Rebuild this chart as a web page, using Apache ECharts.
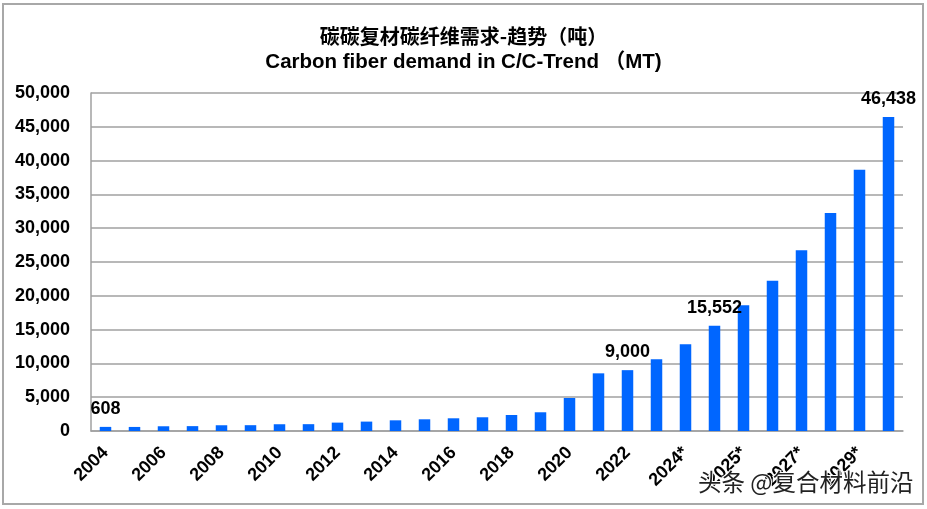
<!DOCTYPE html>
<html>
<head>
<meta charset="utf-8">
<script src="https://cdn.jsdelivr.net/npm/echarts@6/dist/echarts.min.js"></script>
<style>
html,body{margin:0;padding:0;background:#fff;}
#c{width:927px;height:509px;}
</style>
</head>
<body>
<div id="c"></div>
<script>
const titleCn = '碳碳复材碳纤维需求-趋势（吨）';
const titleEn = 'Carbon fiber demand in C/C-Trend （MT)';
const categories = ['2004','2005','2006','2007','2008','2009','2010','2011','2012','2013',
  '2014','2015','2016','2017','2018','2019','2020','2021','2022','2023',
  '2024*','2024*','2025*','2026*','2027*','2028*','2029*','2030*'];
const demand = [608,600,700,720,850,860,1000,1010,1240,1390,
  1580,1730,1880,2030,2370,2770,4880,8530,9000,10600,
  12820,15552,18590,22240,26730,32260,38660,46438];
const labeledIndex = [0,18,21,27];
const yTicks = {min:0,max:50000,interval:5000};
const watermark = '头条 @复合材料前沿';

const fmt = v => String(v).replace(/\B(?=(\d{3})+(?!\d))/g, ',');
const FONT = '"Liberation Sans", Arial, "Noto Sans CJK SC", sans-serif';

const seriesData = demand.map((v,i)=>({
  value:v,
  label:{show: labeledIndex.indexOf(i) >= 0}
}));

const chart = echarts.init(document.getElementById('c'));
chart.setOption({
  animation:false,
  backgroundColor:'#fff',
  title:[
    {text:titleCn,left:'center',top:21,textStyle:{fontFamily:'"Noto Sans CJK SC", sans-serif',fontSize:20,fontWeight:'bold',color:'#000'}},
    {text:titleEn,left:'center',top:47,textStyle:{fontFamily:FONT,fontSize:20.5,fontWeight:'bold',color:'#000'}}
  ],
  grid:{left:91,right:24,top:93,bottom:78,containLabel:false},
  xAxis:{
    type:'category',
    data:categories,
    axisTick:{show:false},
    axisLine:{lineStyle:{color:'#a0a0a0',width:1.5}},
    axisLabel:{interval:1,rotate:45,margin:19,fontFamily:FONT,fontSize:18,fontWeight:'bold',color:'#000',padding:[0,0,0,0]}
  },
  yAxis:{
    type:'value',
    min:yTicks.min,max:yTicks.max,interval:yTicks.interval,
    axisLine:{show:true,lineStyle:{color:'#a0a0a0',width:1.5}},
    axisTick:{show:false},
    splitLine:{lineStyle:{color:'#a0a0a0',width:1.5}},
    axisLabel:{margin:21,fontFamily:FONT,fontSize:18,fontWeight:'bold',color:'#000',formatter:v=>fmt(v)}
  },
  series:[{
    type:'bar',
    data:seriesData,
    barWidth:11.5,
    itemStyle:{color:'#0066ff'},
    label:{position:'top',distance:9,fontFamily:FONT,fontSize:18,fontWeight:'bold',color:'#000',formatter:p=>fmt(p.value)}
  }],
  graphic:[
    {type:'rect',shape:{x:3,y:4,width:920,height:500},style:{fill:'none',stroke:'#a8a8a8',lineWidth:2},z:100},
    {type:'text',left:697,top:469,style:{text:watermark,fontFamily:'"Noto Sans CJK SC", sans-serif',fontSize:23.5,fill:'#222',stroke:'#fff',lineWidth:2},z:110}
  ]
});
</script>
</body>
</html>
